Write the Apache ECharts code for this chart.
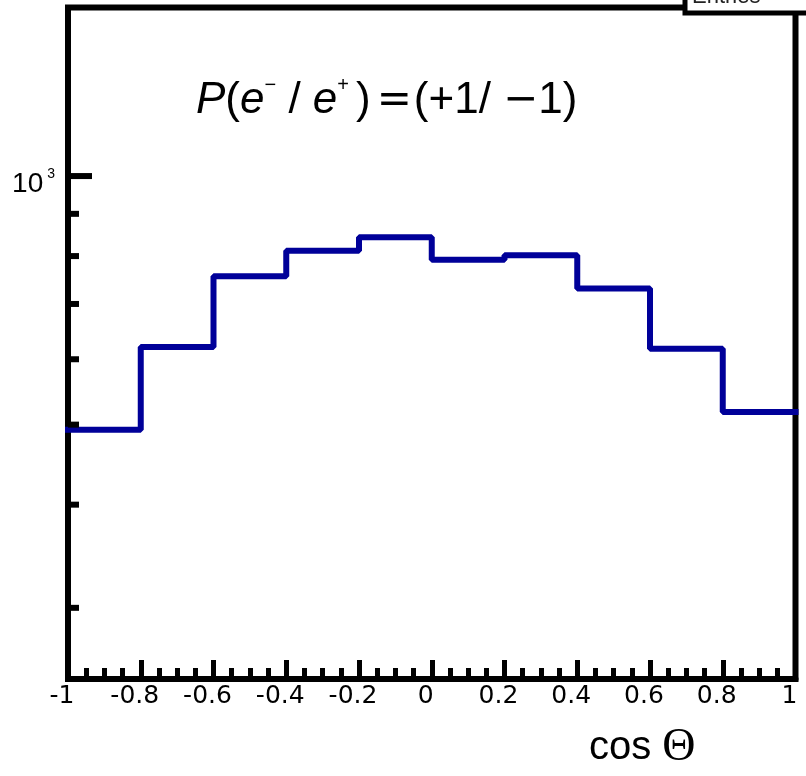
<!DOCTYPE html>
<html><head><meta charset="utf-8">
<script src="https://cdn.jsdelivr.net/npm/echarts@6/dist/echarts.min.js"></script>
<style>html,body{margin:0;padding:0;background:#fff}#c{width:806px;height:776px}</style>
</head><body><div id="c"></div>
<script>
const binEdges = [-1, -0.8, -0.6, -0.4, -0.2, 0, 0.2, 0.4, 0.6, 0.8, 1];
const binCounts = [493, 621, 756, 812, 843, 792, 802, 731, 618, 518];
const xTickLabels = ['-1', '-0.8', '-0.6', '-0.4', '-0.2', '0', '0.2', '0.4', '0.6', '0.8', '1'];
const yMajorTicks = [1000];
const yMinorTicks = [300, 400, 500, 600, 700, 800, 900];
const yRange = [246, 1600];
const xRange = [-1, 1];
const FONT = "'Liberation Sans', Arial, sans-serif";
const SYM = "'DejaVu Sans', sans-serif";

const stepData = binEdges.map((e, i) => [e, binCounts[Math.min(i, binCounts.length - 1)]]);

function tickRenderer(len, withLabel) {
  return function (params, api) {
    const p = api.coord([api.value(0), api.value(1)]);
    const children = [{
      type: 'line',
      shape: { x1: p[0], y1: p[1], x2: p[0] + len, y2: p[1] },
      style: { stroke: '#000', lineWidth: 6 }
    }];
    if (withLabel) {
      children.push({
        type: 'text',
        x: p[0] - 13, y: p[1] + 8,
        style: {
          text: '{b|10}{s|3}',
          align: 'right', verticalAlign: 'middle',
          rich: {
            b: { fontFamily: FONT, fontSize: 28, fill: '#000', lineHeight: 34 },
            s: { fontFamily: FONT, fontSize: 14, fill: '#000', verticalAlign: 'top', padding: [0, 0, 0, 4] }
          }
        }
      });
    }
    return { type: 'group', children: children };
  };
}

const chart = echarts.init(document.getElementById('c'), null, { renderer: 'canvas' });
chart.setOption({
  animation: false,
  backgroundColor: '#fff',
  grid: { left: 68, right: 10.5, top: 7.5, bottom: 97, show: true, borderColor: '#000', borderWidth: 6, backgroundColor: 'transparent' },
  xAxis: {
    type: 'value', min: xRange[0], max: xRange[1], interval: 0.2,
    axisLine: { show: true, lineStyle: { color: '#000', width: 6 } },
    axisTick: { show: true, inside: true, length: 19, lineStyle: { color: '#000', width: 5 } },
    minorTick: { show: true, splitNumber: 4, length: 11, lineStyle: { color: '#000', width: 5 } },
    splitLine: { show: false },
    axisLabel: {
      show: true, margin: 5, fontFamily: SYM, fontSize: 25, color: '#000',
      showMinLabel: true, showMaxLabel: true, padding: [0, 12, 0, 0],
      formatter: function (v) {
        const i = Math.round((v - xRange[0]) / 0.2);
        return xTickLabels[i] !== undefined ? xTickLabels[i] : '';
      }
    }
  },
  yAxis: {
    type: 'log', logBase: 10, min: yRange[0], max: yRange[1],
    axisLine: { show: false },
    axisTick: { show: false }, axisLabel: { show: false }, splitLine: { show: false }, minorTick: { show: false }
  },
  graphic: [
    { type: 'rect', z: 100, shape: { x: 685, y: -20, width: 140, height: 33 }, style: { fill: '#fff', stroke: '#000', lineWidth: 5 } },
    { type: 'text', z: 101, x: 692, y: -3, style: { text: 'Entries', fontFamily: FONT, fontSize: 22, fill: '#222', verticalAlign: 'middle' } },
    {
      type: 'text', z: 50, x: 196, y: 101,
      style: {
        text: '{i|P}{n|(}{i|e}{s|\u2212}{n| / }{i|e}{t|+}{n|)}{q|=}{n|(+1/ }{m|\u2212}{n|1)}',
        verticalAlign: 'middle', align: 'left',
        rich: {
          i: { fontFamily: FONT, fontSize: 44, fontStyle: 'italic', fill: '#000', lineHeight: 52 },
          n: { fontFamily: FONT, fontSize: 44, fill: '#000', lineHeight: 52 },
          m: { fontFamily: SYM, fontSize: 42, fill: '#000', lineHeight: 52 },
          q: { fontFamily: SYM, fontSize: 42, fill: '#000', lineHeight: 52, padding: [0, 2, 0, 6] },
          s: { fontFamily: FONT, fontSize: 20, fill: '#000', verticalAlign: 'top', lineHeight: 52 },
          t: { fontFamily: FONT, fontSize: 20, fill: '#000', verticalAlign: 'top', lineHeight: 52, padding: [0, 7, 0, 0] }
        }
      }
    },
    {
      type: 'text', z: 50, x: 589, y: 771,
      style: {
        text: '{a|cos }{b|\u0398}', verticalAlign: 'bottom',
        rich: {
          a: { fontFamily: FONT, fontSize: 40, fill: '#000' },
          b: { fontFamily: "'Liberation Serif', serif", fontSize: 46, fill: '#000' }
        }
      }
    }
  ],
  series: [
    {
      type: 'line', step: 'end', data: stepData, symbol: 'none', z: 5,
      lineStyle: { color: '#000099', width: 6, cap: 'square' }
    },
    {
      type: 'custom', clip: false, z: 10,
      data: yMinorTicks.map(v => [xRange[0], v]),
      renderItem: tickRenderer(11, false)
    },
    {
      type: 'custom', clip: false, z: 10,
      data: yMajorTicks.map(v => [xRange[0], v]),
      renderItem: tickRenderer(24, true)
    }
  ]
});
</script></body></html>
